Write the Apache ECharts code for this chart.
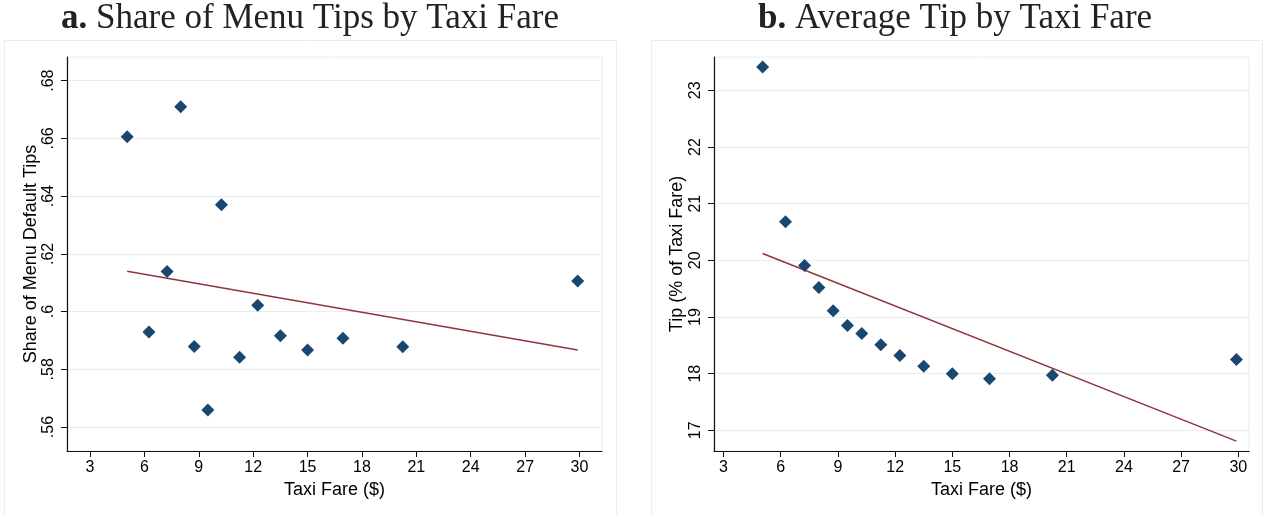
<!DOCTYPE html>
<html>
<head>
<meta charset="utf-8">
<script src="https://cdn.jsdelivr.net/npm/echarts@6/dist/echarts.min.js"></script>
<style>
html,body{margin:0;padding:0;background:#fff;}
#chart{width:1265px;height:515px;}
</style>
</head>
<body>
<div id="chart"></div>
<script>
// Data
const taxiFare = [5.05, 6.25, 7.25, 8.0, 8.75, 9.5, 10.25, 11.25, 12.25, 13.5, 15.0, 16.95, 20.25, 29.9];
const menuShare = [0.6606, 0.5929, 0.6139, 0.6710, 0.5879, 0.5659, 0.6370, 0.5842, 0.6022, 0.5916, 0.5867, 0.5908, 0.5878, 0.6106];
const avgTip = [23.41, 20.68, 19.91, 19.52, 19.11, 18.85, 18.71, 18.51, 18.32, 18.13, 18.00, 17.91, 17.97, 18.25];
const fitFare = [5.05, 29.9];
const fitShare = [0.6140, 0.5867];
const fitTip = [20.12, 16.81];
const xTicks = [3, 6, 9, 12, 15, 18, 21, 24, 27, 30];
const yTicksA = [0.56, 0.58, 0.60, 0.62, 0.64, 0.66, 0.68];
const yTickLabelsA = ['.56', '.58', '.6', '.62', '.64', '.66', '.68'];
const yTicksB = [17, 18, 19, 20, 21, 22, 23];
const titleA = 'Share of Menu Tips by Taxi Fare';
const titleB = 'Average Tip by Taxi Fare';

const navy = '#1a476f';
const maroon = '#90353b';
const gridCol = '#e6eef1';
const sans = '"Liberation Sans", Arial, sans-serif';
const serif = '"Liberation Serif", serif';

function pairs(xs, ys) { return xs.map((x, i) => [x, ys[i]]); }

function xAxisCfg(idx, min, max) {
  return {
    type: 'value', gridIndex: idx, min: min, max: max,
    name: 'Taxi Fare ($)', nameLocation: 'middle', nameGap: 27,
    nameTextStyle: { fontFamily: sans, fontSize: 18, color: '#000' },
    axisLine: { show: true, onZero: false, lineStyle: { color: '#111', width: 1.2 } },
    axisTick: { show: true, length: 6, customValues: xTicks, lineStyle: { color: '#111', width: 1 } },
    axisLabel: { customValues: xTicks, fontFamily: sans, fontSize: 16, color: '#000', margin: 9 },
    splitLine: { show: false }
  };
}
function yAxisCfg(idx, min, max, ticks, fmt, name, gap) {
  return {
    type: 'value', gridIndex: idx, min: min, max: max,
    name: name, nameLocation: 'middle', nameGap: gap, nameRotate: 90,
    nameTextStyle: { fontFamily: sans, fontSize: 18, color: '#000' },
    axisLine: { show: true, onZero: false, lineStyle: { color: '#111', width: 1.2 } },
    axisTick: { show: true, length: 6, customValues: ticks, lineStyle: { color: '#111', width: 1 } },
    axisLabel: { customValues: ticks, formatter: fmt, rotate: 90, fontFamily: sans, fontSize: 16, color: '#000', margin: 10 },
    splitLine: { show: true, lineStyle: { color: gridCol, width: 1.2 } }
  };
}

const titleStyle = (letter, text, x) => ({
  type: 'text', x: x, y: 19,
  style: {
    text: '{b|' + letter + '} ' + text,
    rich: { b: { fontWeight: 'bold', fontFamily: serif, fontSize: 35, fill: '#222' } },
    fontFamily: serif, fontSize: 35, fill: '#222', align: 'center', verticalAlign: 'middle'
  }
});

const chart = echarts.init(document.getElementById('chart'), null, { renderer: 'canvas' });
chart.setOption({
  animation: false,
  backgroundColor: '#fff',
  graphic: [
    { type: 'rect', z: -10, shape: { x: 4.5, y: 40.5, width: 612, height: 490 }, style: { fill: '#fff', stroke: gridCol, lineWidth: 1 } },
    { type: 'rect', z: -10, shape: { x: 651.5, y: 40.5, width: 611, height: 490 }, style: { fill: '#fff', stroke: gridCol, lineWidth: 1 } },
    titleStyle('a.', titleA, 310),
    titleStyle('b.', titleB, 955)
  ],
  grid: [
    { left: 67, right: 663, top: 57, bottom: 64, show: true, borderColor: gridCol, borderWidth: 1, backgroundColor: '#fff' },
    { left: 714, right: 16, top: 57, bottom: 64, show: true, borderColor: gridCol, borderWidth: 1, backgroundColor: '#fff' }
  ],
  xAxis: [ xAxisCfg(0, 1.73, 31.24), xAxisCfg(1, 2.5, 30.56) ],
  yAxis: [
    yAxisCfg(0, 0.5517, 0.6882, yTicksA, v => { const i = yTicksA.findIndex(t => Math.abs(t - v) < 1e-6); return i >= 0 ? yTickLabelsA[i] : ''; }, 'Share of Menu Default Tips', 27),
    yAxisCfg(1, 16.635, 23.588, yTicksB, v => String(Math.round(v)), 'Tip (% of Taxi Fare)', 28)
  ],
  series: [
    { type: 'line', xAxisIndex: 0, yAxisIndex: 0, data: pairs(fitFare, fitShare), showSymbol: false, lineStyle: { color: maroon, width: 1.5 }, z: 2 },
    { type: 'scatter', xAxisIndex: 0, yAxisIndex: 0, data: pairs(taxiFare, menuShare), symbol: 'diamond', symbolSize: [13, 13], itemStyle: { color: navy, opacity: 1 }, z: 3 },
    { type: 'line', xAxisIndex: 1, yAxisIndex: 1, data: pairs(fitFare, fitTip), showSymbol: false, lineStyle: { color: maroon, width: 1.5 }, z: 2 },
    { type: 'scatter', xAxisIndex: 1, yAxisIndex: 1, data: pairs(taxiFare, avgTip), symbol: 'diamond', symbolSize: [13, 13], itemStyle: { color: navy, opacity: 1 }, z: 3 }
  ]
});
</script>
</body>
</html>
